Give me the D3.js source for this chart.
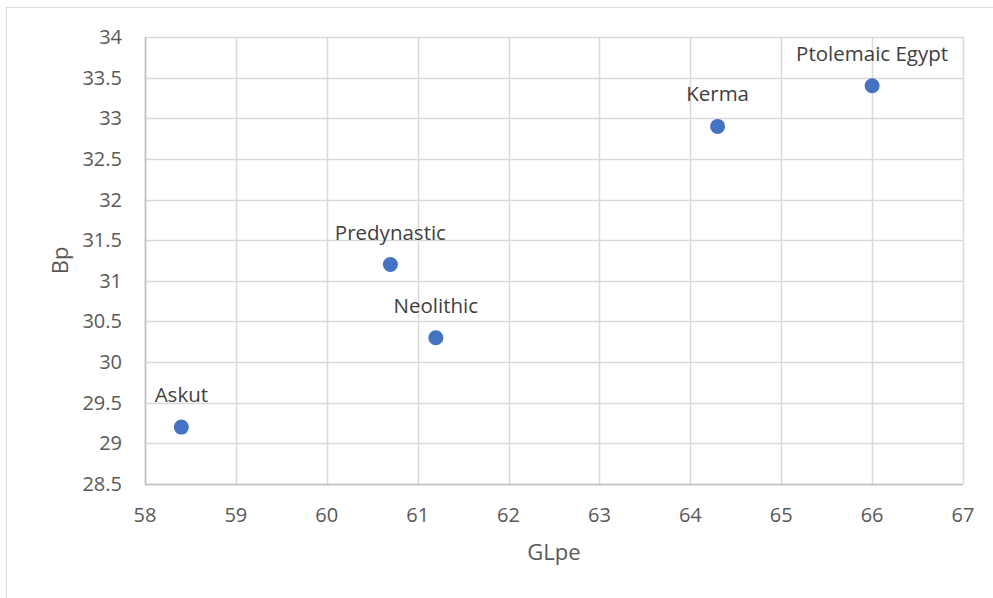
<!DOCTYPE html>
<html><head><meta charset="utf-8">
<script src="https://cdn.jsdelivr.net/npm/d3@7"></script>
<style>body{margin:0;background:#fff}svg{display:block}text{font-family:"Open Sans","Liberation Sans",sans-serif}</style>
</head><body>
<script>
const labels = ["Askut","Predynastic","Neolithic","Kerma","Ptolemaic Egypt"];
const glpe = [58.4, 60.7, 61.2, 64.3, 66.0];
const bp = [29.2, 31.2, 30.3, 32.9, 33.4];
const xTicks = [58,59,60,61,62,63,64,65,66,67];
const yTicks = [28.5,29,29.5,30,30.5,31,31.5,32,32.5,33,33.5,34];
const xTitle = "GLpe", yTitle = "Bp";

const W = 993, H = 598;
const svg = d3.select("body").append("svg").attr("width", W).attr("height", H);
svg.append("rect").attr("x",6.5).attr("y",7.5).attr("width",W+10).attr("height",H+10)
  .attr("fill","none").attr("stroke","#d9d9d9").attr("stroke-width",1);

const L=145, R=963, T=37, B=484;
const x = d3.scaleLinear().domain([58,67]).range([L,R]);
const y = d3.scaleLinear().domain([28.5,34]).range([B,T]);

const g = svg.append("g");
g.selectAll(".vg").data(xTicks).join("line")
  .attr("x1",d=>Math.round(x(d))+0.5).attr("x2",d=>Math.round(x(d))+0.5)
  .attr("y1",T).attr("y2",B).attr("stroke","#d9d9d9").attr("stroke-width",1.5);
g.selectAll(".hg").data(yTicks).join("line")
  .attr("y1",d=>Math.round(y(d))+0.5).attr("y2",d=>Math.round(y(d))+0.5)
  .attr("x1",L).attr("x2",R).attr("stroke","#d9d9d9").attr("stroke-width",1.5);
g.append("line").attr("x1",L+0.5).attr("x2",L+0.5).attr("y1",T).attr("y2",B+0.5).attr("stroke","#bfbfbf").attr("stroke-width",1.5);
g.append("line").attr("x1",L).attr("x2",R).attr("y1",B+0.5).attr("y2",B+0.5).attr("stroke","#bfbfbf").attr("stroke-width",1.5);

g.selectAll(".xt").data(xTicks).join("text")
  .attr("x",d=>x(d)).attr("y",B+38).attr("text-anchor","middle")
  .attr("fill","#595959").attr("font-size",20).text(d=>d);
g.selectAll(".yt").data(yTicks).join("text")
  .attr("x",L-23).attr("y",d=>y(d)+7).attr("text-anchor","end")
  .attr("fill","#595959").attr("font-size",20).text(d=>d);

svg.append("text").attr("x",(L+R)/2).attr("y",560).attr("text-anchor","middle")
  .attr("fill","#595959").attr("font-size",22).text(xTitle);
svg.append("text").attr("transform",`translate(68,${(T+B)/2}) rotate(-90)`).attr("text-anchor","middle")
  .attr("fill","#595959").attr("font-size",22).text(yTitle);

const pts = labels.map((l,i)=>({l, x:glpe[i], y:bp[i]}));
g.selectAll("circle").data(pts).join("circle")
  .attr("cx",d=>x(d.x)).attr("cy",d=>y(d.y)).attr("r",7.5).attr("fill","#4472c4");
g.selectAll(".lbl").data(pts).join("text")
  .attr("x",d=>x(d.x)).attr("y",d=>y(d.y)-25).attr("text-anchor","middle")
  .attr("fill","#404040").attr("font-size",20.5).text(d=>d.l);
</script>
</body></html>
